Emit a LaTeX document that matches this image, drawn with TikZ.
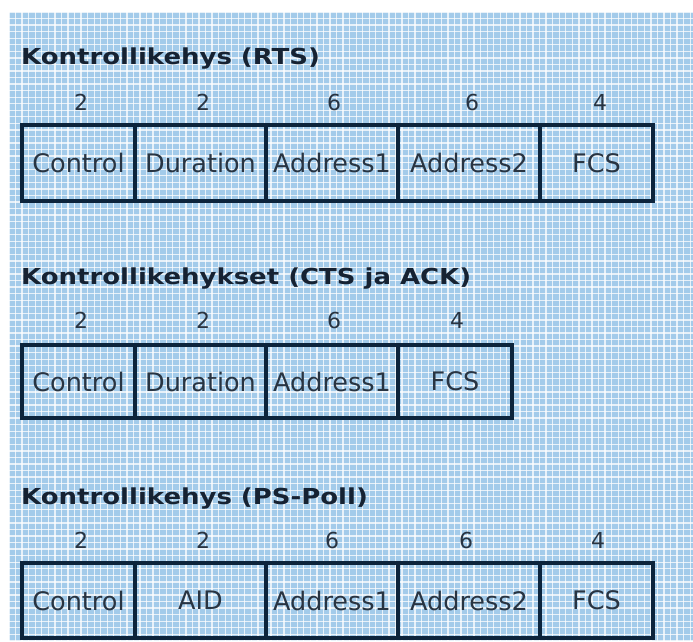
\documentclass[tikz,border=0pt]{standalone}
\usepackage{fontspec}
\setmainfont{DejaVu Sans}
\usepackage{graphicx}
\definecolor{bgblue}{RGB}{163,203,234}
\definecolor{linenavy}{RGB}{12,36,60}
\definecolor{txtgray}{RGB}{40,52,66}
\definecolor{ttldark}{RGB}{22,34,50}
\begin{document}
\begin{tikzpicture}[x=1pt,y=-1pt,
  cellbox/.style={draw=linenavy, line width=4pt, inner sep=0pt, minimum height=76pt,
    text=txtgray, font=\fontsize{25.5}{29}\selectfont},
  sizelbl/.style={anchor=base, inner sep=0pt, text=txtgray, font=\fontsize{22}{26}\selectfont},
  ttl/.style={anchor=base west, inner sep=0pt, text=ttldark, font=\bfseries\fontsize{22}{26}\selectfont}]
\useasboundingbox (0,0) rectangle (693,641);
\fill[white] (0,0) rectangle (693,641);
\fill[bgblue] (9,12) rectangle (693,641);
\foreach \i in {0,...,104} {
  \draw[white, line width=1.3pt, opacity=0.75] ({9+6.55*\i},12) -- ({9+6.55*\i},641);
}
\foreach \j in {0,...,96} {
  \draw[white, line width=1.3pt, opacity=0.75] (9,{12+6.55*\j}) -- (693,{12+6.55*\j});
}
% ---- Row 1: RTS
\node[ttl] (t1) at (21,64) {\scalebox{1.18}[1]{Kontrollikehys (RTS)}};
\node[sizelbl] (n11) at (81,110) {2};
\node[sizelbl] (n12) at (203,110) {2};
\node[sizelbl] (n13) at (334,110) {6};
\node[sizelbl] (n14) at (472,110) {6};
\node[sizelbl] (n15) at (600,110) {4};
\node[cellbox, minimum width=113pt] (a1) at (78.5,163) {Control};
\node[cellbox, minimum width=131pt] (a2) at (200.5,163) {Duration};
\node[cellbox, minimum width=132pt] (a3) at (332,163) {Address1};
\node[cellbox, minimum width=142pt] (a4) at (469,163) {Address2};
\node[cellbox, minimum width=113pt] (a5) at (596.5,163) {FCS};
% ---- Row 2: CTS / ACK
\node[ttl] (t2) at (21,284) {\scalebox{1.18}[1]{Kontrollikehykset (CTS ja ACK)}};
\node[sizelbl] (n21) at (81,328) {2};
\node[sizelbl] (n22) at (203,328) {2};
\node[sizelbl] (n23) at (334,328) {6};
\node[sizelbl] (n24) at (457,328) {4};
\node[cellbox, minimum width=113pt, minimum height=73pt] (b1) at (78.5,381.5) {Control};
\node[cellbox, minimum width=131pt, minimum height=73pt] (b2) at (200.5,381.5) {Duration};
\node[cellbox, minimum width=132pt, minimum height=73pt] (b3) at (332,381.5) {Address1};
\node[cellbox, minimum width=114pt, minimum height=73pt] (b4) at (455,381.5) {FCS};
% ---- Row 3: PS-Poll
\node[ttl] (t3) at (21,504) {\scalebox{1.18}[1]{Kontrollikehys (PS-Poll)}};
\node[sizelbl] (n31) at (81,548) {2};
\node[sizelbl] (n32) at (203,548) {2};
\node[sizelbl] (n33) at (332,548) {6};
\node[sizelbl] (n34) at (466,548) {6};
\node[sizelbl] (n35) at (598,548) {4};
\node[cellbox, minimum width=113pt, minimum height=75pt] (c1) at (78.5,600.5) {Control};
\node[cellbox, minimum width=131pt, minimum height=75pt] (c2) at (200.5,600.5) {AID};
\node[cellbox, minimum width=132pt, minimum height=75pt] (c3) at (332,600.5) {Address1};
\node[cellbox, minimum width=142pt, minimum height=75pt] (c4) at (469,600.5) {Address2};
\node[cellbox, minimum width=113pt, minimum height=75pt] (c5) at (596.5,600.5) {FCS};
\end{tikzpicture}
\end{document}
